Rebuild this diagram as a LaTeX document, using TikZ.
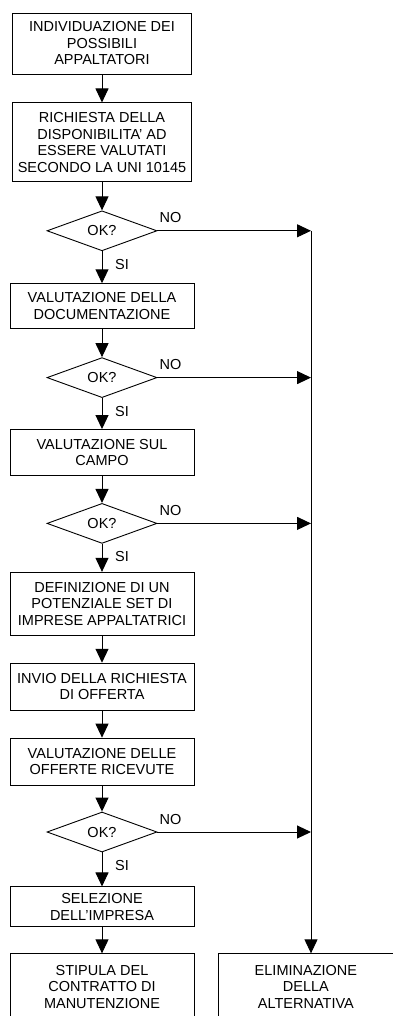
\documentclass[tikz,border=0pt]{standalone}
\usepackage{fontspec}
\setmainfont{Liberation Sans}
\usetikzlibrary{positioning,arrows.meta,shapes.geometric}

\begin{document}
\begin{tikzpicture}[
  font=\fontsize{14.5}{16.5}\selectfont,
  box/.style={draw, align=center, minimum width=184pt, inner ysep=6pt, line width=0.9pt},
  check/.style={draw, diamond, minimum width=110pt, minimum height=40pt, inner sep=0pt, line width=0.9pt},
  arrow/.style={-{Triangle[length=14pt, width=13pt]}, line width=1pt},
  lbl/.style={inner sep=1pt},
  node distance=28pt
]
\useasboundingbox (0,0) rectangle (393pt,-1016pt);

\node[box, minimum width=179pt, minimum height=61pt] (indiv) at (102pt,-43.5pt) {INDIVIDUAZIONE DEI\\POSSIBILI\\APPALTATORI};
\node[box, minimum width=179pt, minimum height=79pt, below=of indiv] (disp) {RICHIESTA DELLA\\DISPONIBILITA' AD\\ESSERE VALUTATI\\SECONDO LA UNI 10145};
\node[check, below=28pt of disp] (ok1) {OK?};
\node[box, minimum height=45pt, below=32pt of ok1] (docum) {VALUTAZIONE DELLA\\DOCUMENTAZIONE};
\node[check, below=28pt of docum] (ok2) {OK?};
\node[box, minimum height=46pt, below=31pt of ok2] (campo) {VALUTAZIONE SUL\\CAMPO};
\node[check, below=27pt of campo] (ok3) {OK?};
\node[box, minimum height=63pt, below=28pt of ok3] (defin) {DEFINIZIONE DI UN\\POTENZIALE SET DI\\IMPRESE APPALTATRICI};
\node[box, minimum height=47pt, below=27pt of defin] (invio) {INVIO DELLA RICHIESTA\\DI OFFERTA};
\node[box, minimum height=47pt, below=27pt of invio] (offer) {VALUTAZIONE DELLE\\OFFERTE RICEVUTE};
\node[check, below=26pt of offer] (ok4) {OK?};
\node[box, minimum height=40pt, below=34pt of ok4] (selez) {SELEZIONE\\DELL'IMPRESA};
\node[box, minimum height=66pt, below=26pt of selez] (stip) {STIPULA DEL\\CONTRATTO DI\\MANUTENZIONE};
\node[box, minimum width=175pt, minimum height=66pt, right=23.5pt of stip] (elim) {ELIMINAZIONE\\DELLA\\ALTERNATIVA};

\coordinate (bus) at (311pt,0);

% main column
\foreach \a/\b in {indiv/disp, disp/ok1, ok1/docum, docum/ok2, ok2/campo, campo/ok3,
  ok3/defin, defin/invio, invio/offer, offer/ok4, ok4/selez, selez/stip}
  \draw[arrow] (\a) -- (\b);

% NO branches
\foreach \d in {ok1,ok2,ok3,ok4} {
  \draw[arrow] (\d.east) -- (\d.east -| bus);
  \node[lbl, anchor=west] (no-\d) at ([shift={(1pt,13pt)}]\d.east) {NO};
  \node[lbl, anchor=west] (si-\d) at ([shift={(12pt,-13pt)}]\d.south) {SI};
}
\draw[arrow] (ok1.east -| bus) -- (bus |- elim.north);
\end{tikzpicture}
\end{document}
